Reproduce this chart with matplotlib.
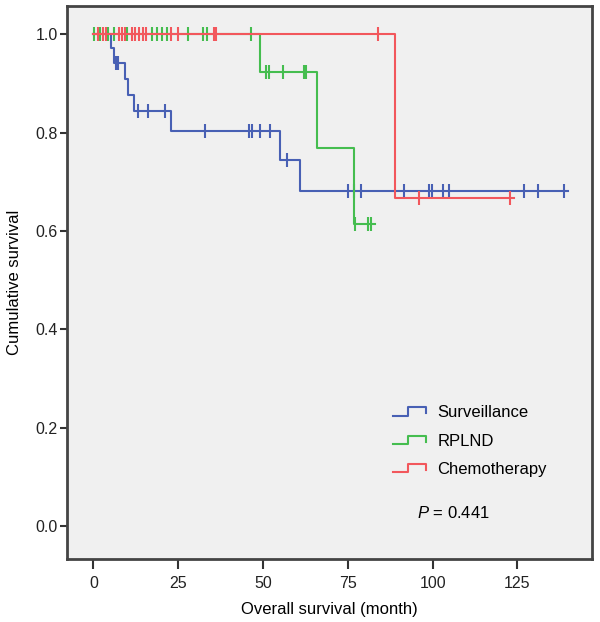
import numpy as np
import matplotlib
matplotlib.use("Agg")
import matplotlib.pyplot as plt
from matplotlib.legend_handler import HandlerBase
from matplotlib.lines import Line2D

plt.rcParams['font.family'] = ['Liberation Sans', 'DejaVu Sans']
plt.rcParams['mathtext.fontset'] = 'custom'
plt.rcParams['mathtext.it'] = 'Liberation Sans:italic'
plt.rcParams['mathtext.rm'] = 'Liberation Sans'

# group data (months, survival)
groups = ['Surveillance', 'RPLND', 'Chemotherapy']
colors = ['#4860b4', '#45bd4f', '#f2575c']

surv_event_t = [5.2, 6.0, 9.2, 10.2, 11.9, 23.0, 55.0, 61.0]
surv_event_s = [0.972, 0.942, 0.908, 0.876, 0.844, 0.803, 0.744, 0.681]
surv_censor = [6.5, 7.2, 13.1, 16.1, 21.2, 33.0, 46.0, 46.6, 49.0, 52.0, 57.0,
               75.0, 76.8, 78.8, 91.7, 98.8, 99.7, 103.0, 104.7, 126.8, 131.0, 138.7]
surv_end = 140.0

rplnd_event_t = [49.0, 66.0, 76.8]
rplnd_event_s = [0.923, 0.769, 0.615]
rplnd_censor = [0.3, 1.8, 4.4, 6.0, 9.8, 17.2, 18.7, 20.2, 21.6, 28.0, 32.4, 33.4,
                46.5, 51.0, 51.7, 56.0, 62.0, 62.7, 77.2, 81.0, 81.7]
rplnd_end = 83.0

chemo_event_t = [89.0]
chemo_event_s = [0.667]
chemo_censor = [1.2, 2.9, 3.6, 7.4, 8.4, 9.2, 11.3, 12.3, 13.3, 14.5, 15.5, 23.0,
                25.0, 35.4, 36.0, 84.0, 96.0, 122.7]
chemo_end = 124.0

p_text = r"$\it{P}$ = 0.441"


class StepHandler(HandlerBase):
    def create_artists(self, legend, orig_handle, xdescent, ydescent,
                       width, height, fontsize, trans):
        xs = np.array([0, 0.45, 0.45, 1.0, 1.0]) * width - xdescent
        ys = np.array([0.15, 0.15, 0.85, 0.85, 0.35]) * height - ydescent
        ln = Line2D(xs, ys, color=orig_handle.get_color(), lw=1.5)
        ln.set_transform(trans)
        return [ln]


fig = plt.figure(figsize=(6.0, 6.22), dpi=100)
ax = fig.add_axes([0.1117, 0.1013, 0.875, 0.8887])
ax.set_facecolor('#f0f0f0')

series = [
    (surv_event_t, surv_event_s, surv_censor, surv_end),
    (rplnd_event_t, rplnd_event_s, rplnd_censor, rplnd_end),
    (chemo_event_t, chemo_event_s, chemo_censor, chemo_end),
]

handles = []
for name, col, (et, es, cens, end) in zip(groups, colors, series):
    xs = [0.0] + list(et) + [end]
    ys = [1.0] + list(es) + [es[-1]]
    h, = ax.step(xs, ys, where='post', color=col, lw=1.5, label=name)
    handles.append(h)
    et_arr = np.array(et)
    cy = []
    for c in cens:
        k = np.searchsorted(et_arr, c, side='right')
        cy.append(1.0 if k == 0 else es[k - 1])
    ax.plot(cens, cy, ls='none', marker='|', ms=10, mew=1.5, color=col)

ax.set_xlim(-7.8, 147)
ax.set_ylim(-0.067, 1.057)
ax.set_xticks([0, 25, 50, 75, 100, 125])
ax.set_yticks([0.0, 0.2, 0.4, 0.6, 0.8, 1.0])
ax.set_yticklabels(['0.0', '0.2', '0.4', '0.6', '0.8', '1.0'])
ax.tick_params(axis='x', length=7, width=1.5, pad=5, labelsize=11.5,
               color='#333333', labelcolor='#222222')
ax.tick_params(axis='y', length=5, width=1.5, pad=1.5, labelsize=11.5,
               color='#333333', labelcolor='#222222')
for s in ax.spines.values():
    s.set_linewidth(2)
    s.set_color('#444444')

ax.set_xlabel('Overall survival (month)', fontsize=12, labelpad=8)
ax.set_ylabel('Cumulative survival', fontsize=12, labelpad=10)

leg = ax.legend(handles=handles, loc='upper left', bbox_to_anchor=(0.605, 0.293),
                frameon=False, fontsize=12, handlelength=2.0, handletextpad=0.65,
                labelspacing=0.8, borderpad=0,
                handler_map={Line2D: StepHandler()})

ax.text(0.667, 0.083, p_text, transform=ax.transAxes, fontsize=12, va='center')

fig.savefig('out.png', dpi=100)
